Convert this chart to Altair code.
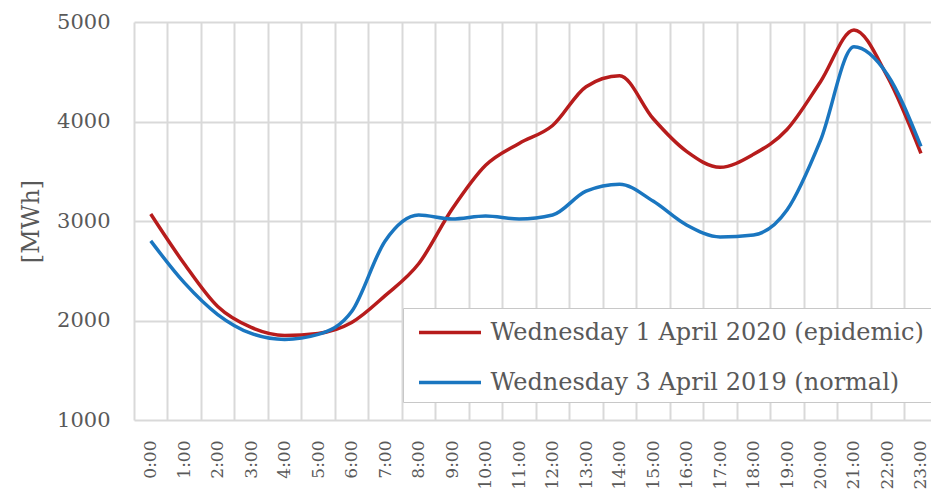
import json
import altair as alt
import pandas as pd

# ---- data ----
hours = list(range(24))
hour_labels = ["0:00", "1:00", "2:00", "3:00", "4:00", "5:00", "6:00", "7:00",
               "8:00", "9:00", "10:00", "11:00", "12:00", "13:00", "14:00", "15:00",
               "16:00", "17:00", "18:00", "19:00", "20:00", "21:00", "22:00", "23:00"]
epidemic = [3070, 2570, 2140, 1930, 1850, 1870, 1980, 2250, 2570, 3120, 3560, 3780,
            3960, 4350, 4460, 4030, 3700, 3540, 3670, 3920, 4400, 4920, 4450, 3680]
normal = [2800, 2380, 2060, 1870, 1810, 1860, 2090, 2800, 3060, 3020, 3050, 3020,
          3060, 3300, 3370, 3200, 2960, 2840, 2860, 3110, 3810, 4750, 4470, 3750]
series_names = ["Wednesday 1 April 2020 (epidemic)", "Wednesday 3 April 2019 (normal)"]
series_colors = ["#b71c1c", "#1a76c0"]
y_ticks = [1000, 2000, 3000, 4000, 5000]

rows = []
for h, e, n in zip(hours, epidemic, normal):
    rows.append({"hour": h, "series": series_names[0], "mwh": e})
    rows.append({"hour": h, "series": series_names[1], "mwh": n})
df = pd.DataFrame(rows)

# grid lines sit on the boundaries between hour categories
grid_values = [h - 0.5 for h in range(25)]

FONT = "DejaVu Serif"
TXT = "#595959"

# the reference is cropped on the right, shortly after the 23:00 point
x_scale = alt.Scale(domain=[-0.5, 23.3], nice=False, zero=False)
y_scale = alt.Scale(domain=[1000, 5000], nice=False, zero=False)

y_axis = alt.Axis(values=y_ticks, format="d", title="[MWh]", grid=True,
                  gridColor="#d9d9d9", gridWidth=2, domain=False, ticks=False,
                  labelPadding=24, labelFont=FONT, labelFontSize=21, labelColor=TXT,
                  titleFont=FONT, titleFontSize=24, titleFontWeight="normal",
                  titleColor=TXT, titlePadding=13)

grid_layer = alt.Chart(df).mark_line(opacity=0).encode(
    x=alt.X("hour:Q", scale=x_scale,
            axis=alt.Axis(orient="top", values=grid_values, grid=True,
                          gridColor="#d9d9d9", gridWidth=2, labels=False,
                          ticks=False, domain=False, title=None)),
    y=alt.Y("mwh:Q", scale=y_scale, axis=y_axis),
    detail="series:N",
)

label_expr = json.dumps(hour_labels) + "[datum.value]"

lines = alt.Chart(df).mark_line(strokeWidth=3.5, interpolate="monotone").encode(
    x=alt.X("hour:Q", scale=x_scale,
            axis=alt.Axis(orient="bottom", values=hours, labelExpr=label_expr,
                          grid=False, ticks=False, domain=False, title=None,
                          labelAngle=270, labelAlign="right", labelBaseline="middle",
                          labelPadding=20, labelFont=FONT, labelFontSize=17,
                          labelColor=TXT)),
    y=alt.Y("mwh:Q", scale=y_scale, axis=y_axis),
    color=alt.Color("series:N",
                    scale=alt.Scale(domain=series_names, range=series_colors),
                    legend=alt.Legend(orient="none", legendX=269, legendY=286,
                                      title=None, symbolType="M-2,0H2",
                                      symbolSize=961, symbolStrokeWidth=3.5,
                                      labelFont=FONT, labelFontSize=24,
                                      labelColor=TXT, labelLimit=0,
                                      strokeColor="#c8c8c8", fillColor="white",
                                      padding=7, rowPadding=20,
                                      symbolOffset=22.5, labelOffset=23)),
)

chart = alt.layer(grid_layer, lines).resolve_axis(x="independent").properties(
    width=797, height=398,
    autosize=alt.AutoSizeParams(type="none"),
    padding={"left": 126, "top": 14, "right": 0, "bottom": 70},
).configure_view(stroke=None)

chart.save("out.html", embed_options={"renderer": "svg", "actions": False})
